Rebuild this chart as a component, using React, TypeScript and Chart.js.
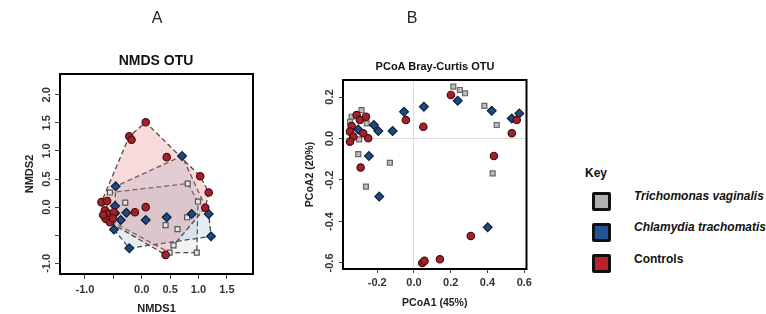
import React, { useEffect, useRef } from "react";
import { Chart, registerables } from "chart.js";
Chart.register(...registerables);

const FONT = "'Liberation Sans', Arial, Helvetica, sans-serif";

// Groups
const groupNames = ["Trichomonas vaginalis", "Chlamydia trachomatis", "Controls"];

// Panel A: NMDS OTU
const nmdsTvX = [0.81, -0.56, -0.29, 0.99, 0.80, 0.42, 0.63, 0.56, 0.49, 0.97, -0.66];
const nmdsTvY = [0.42, 0.26, 0.08, 0.10, -0.18, -0.32, -0.39, -0.68, -0.81, -0.81, -0.18];
const nmdsCtX = [0.71, -0.46, -0.47, -0.47, -0.37, -0.27, 1.18, 0.88, 0.44, 0.07, 1.22, -0.22, -0.49];
const nmdsCtY = [0.91, 0.37, 0.02, -0.11, -0.23, -0.10, -0.12, -0.12, -0.18, -0.23, -0.52, -0.73, -0.40];
const nmdsCoX = [0.07, -0.22, -0.18, 0.44, 1.03, 1.18, 1.12, 0.07, -0.12, -0.71, -0.61, -0.65, -0.59, -0.49, -0.63, -0.56, -0.51, -0.68, 0.42];
const nmdsCoY = [1.51, 1.26, 1.20, 0.89, 0.55, 0.26, -0.01, 0.00, -0.09, 0.09, 0.11, -0.06, -0.12, -0.09, -0.21, -0.27, -0.20, -0.14, -0.85];
const nmdsXTicks = [-1.0, -0.5, 0.0, 0.5, 1.0, 1.5];
const nmdsYTicks = [-1.0, -0.5, 0.0, 0.5, 1.0, 1.5, 2.0];
const nmdsHiddenLabels = [-0.5];

// Panel B: PCoA Bray-Curtis OTU
const pcoaTvX = [-0.257, -0.285, -0.339, -0.348, -0.298, -0.303, -0.131, -0.261, 0.214, 0.250, 0.278, 0.383, 0.450, 0.428];
const pcoaTvY = [0.073, 0.137, 0.105, 0.081, -0.004, -0.075, -0.117, -0.232, 0.250, 0.234, 0.218, 0.157, 0.065, -0.168];
const pcoaCtX = [0.054, -0.054, -0.116, -0.194, -0.218, -0.303, -0.245, -0.189, 0.238, 0.423, 0.532, 0.573, 0.401];
const pcoaCtY = [0.153, 0.129, 0.036, 0.036, 0.065, 0.044, -0.084, -0.280, 0.182, 0.134, 0.097, 0.121, -0.428];
const pcoaCoX = [-0.044, 0.051, -0.312, -0.294, -0.261, -0.339, -0.348, -0.330, -0.348, -0.276, -0.249, -0.290, 0.201, 0.559, 0.532, 0.435, 0.045, 0.057, 0.141, 0.309];
const pcoaCoY = [0.089, 0.057, 0.113, 0.089, 0.105, 0.060, 0.033, 0.009, -0.015, 0.025, 0.001, -0.140, 0.210, 0.089, 0.025, -0.084, -0.600, -0.590, -0.582, -0.470];
const pcoaXTicks = [-0.2, 0.0, 0.2, 0.4, 0.6];
const pcoaYTicks = [-0.6, -0.4, -0.2, 0.0, 0.2];

function convexHull(xs: number[], ys: number[]) {
  const pts = xs.map((x, i) => ({ x, y: ys[i] })).sort((a, b) => a.x - b.x || a.y - b.y);
  const cross = (o: any, a: any, b: any) => (a.x - o.x) * (b.y - o.y) - (a.y - o.y) * (b.x - o.x);
  const lower: any[] = [];
  for (const p of pts) {
    while (lower.length >= 2 && cross(lower[lower.length - 2], lower[lower.length - 1], p) <= 0) lower.pop();
    lower.push(p);
  }
  const upper: any[] = [];
  for (let i = pts.length - 1; i >= 0; i--) {
    const p = pts[i];
    while (upper.length >= 2 && cross(upper[upper.length - 2], upper[upper.length - 1], p) <= 0) upper.pop();
    upper.push(p);
  }
  upper.pop();
  lower.pop();
  const h = lower.concat(upper);
  h.push(h[0]);
  return h;
}

const framePlugin = {
  id: "frame",
  afterDatasetsDraw(chart: any) {
    const { ctx, chartArea: a } = chart;
    ctx.save();
    ctx.strokeStyle = "#000";
    ctx.lineWidth = 2;
    ctx.strokeRect(a.left, a.top, a.right - a.left, a.bottom - a.top);
    ctx.restore();
  },
};

type PanelSpec = {
  width: number;
  height: number;
  groups: { xs: number[]; ys: number[]; name: string; style: string; r: number; fill: string; stroke: string; hullFill: string }[];
  hulls: boolean;
  xMin: number; xMax: number; yMin: number; yMax: number;
  xTicks: number[]; yTicks: number[]; hidden: number[];
  xTitle: string; yTitle: string;
  titleSize: number;
  padRight: number; padTop: number;
  yAxisW: number; xAxisH: number;
  xTitlePadBottom: number; yTitlePadTop: number;
  xTickPad: number; yTickPad: number; tickLen: number;
  zeroGrid: boolean;
};

function buildConfig(p: PanelSpec): any {
  const datasets: any[] = [];
  p.groups.forEach((g) => {
    datasets.push({
      type: "scatter",
      label: g.name,
      data: g.xs.map((x, i) => ({ x, y: g.ys[i] })),
      pointStyle: g.style,
      pointRadius: g.r,
      backgroundColor: g.fill,
      borderColor: g.stroke,
      borderWidth: 1.2,
      order: 0,
    });
  });
  if (p.hulls) {
    p.groups.forEach((g) => {
      datasets.push({
        type: "line",
        label: g.name + " hull",
        data: convexHull(g.xs, g.ys),
        borderColor: "#4a4a4a",
        borderWidth: 1.3,
        borderDash: [5, 3],
        backgroundColor: g.hullFill,
        fill: "shape",
        pointRadius: 0,
        tension: 0,
        order: 5,
      });
    });
  }
  const tickFont = { family: FONT, size: 11, weight: "bold" as const };
  const titleFont = { family: FONT, size: p.titleSize, weight: "bold" as const };
  const gridColor = (c: any) => (p.zeroGrid && c.tick && Math.abs(c.tick.value) < 1e-9 ? "#dcdcdc" : "rgba(0,0,0,0)");
  return {
    type: "scatter",
    data: { datasets },
    plugins: [framePlugin],
    options: {
      animation: false,
      responsive: false,
      events: [],
      layout: { padding: { left: 0, top: p.padTop, right: p.padRight, bottom: 0 } },
      plugins: { legend: { display: false }, tooltip: { enabled: false }, title: { display: false } },
      scales: {
        x: {
          type: "linear",
          position: "bottom",
          min: p.xMin,
          max: p.xMax,
          afterBuildTicks: (s: any) => { s.ticks = p.xTicks.map((v) => ({ value: v })); },
          afterFit: (s: any) => { s.height = p.xAxisH; },
          border: { display: false },
          grid: { drawOnChartArea: p.zeroGrid, color: gridColor, tickColor: "#444", tickLength: p.tickLen, lineWidth: 1 },
          ticks: {
            font: tickFont, color: "#333", padding: p.xTickPad, maxRotation: 0, autoSkip: false,
            callback: (v: number) => (p.hidden.includes(v) ? "" : Number(v).toFixed(1)),
          },
          title: { display: true, text: p.xTitle, font: titleFont, color: "#222", padding: { top: 0, bottom: p.xTitlePadBottom } },
        },
        y: {
          type: "linear",
          position: "left",
          min: p.yMin,
          max: p.yMax,
          afterBuildTicks: (s: any) => { s.ticks = p.yTicks.map((v) => ({ value: v })); },
          afterFit: (s: any) => { s.width = p.yAxisW; },
          border: { display: false },
          grid: { drawOnChartArea: p.zeroGrid, color: gridColor, tickColor: "#444", tickLength: p.tickLen, lineWidth: 1 },
          ticks: {
            font: tickFont, color: "#333", padding: p.yTickPad, minRotation: 90, maxRotation: 90, crossAlign: "center", autoSkip: false,
            callback: (v: number) => (p.hidden.includes(v) ? "" : Number(v).toFixed(1)),
          },
          title: { display: true, text: p.yTitle, font: titleFont, color: "#222", padding: { top: p.yTitlePadTop, bottom: 0 } },
        },
      },
    },
  };
}

function Panel({ spec, left }: { spec: PanelSpec; left: number }) {
  const ref = useRef<HTMLCanvasElement>(null);
  useEffect(() => {
    if (!ref.current) return;
    const chart = new Chart(ref.current, buildConfig(spec));
    return () => chart.destroy();
  }, []);
  return (
    <canvas
      ref={ref}
      width={spec.width}
      height={spec.height}
      style={{ position: "absolute", left, top: 0, width: spec.width, height: spec.height }}
    />
  );
}

const RED = { fill: "#a3212a", stroke: "#4a0d10" };
const BLUE = { fill: "#1f4a80", stroke: "#0b2038" };

const nmdsSpec: PanelSpec = {
  width: 268, height: 314,
  groups: [
    { xs: nmdsCoX, ys: nmdsCoY, name: groupNames[2], style: "circle", r: 3.7, fill: RED.fill, stroke: RED.stroke, hullFill: "rgba(225,120,120,0.27)" },
    { xs: nmdsCtX, ys: nmdsCtY, name: groupNames[1], style: "rectRot", r: 4.4, fill: BLUE.fill, stroke: BLUE.stroke, hullFill: "rgba(120,160,200,0.2)" },
    { xs: nmdsTvX, ys: nmdsTvY, name: groupNames[0], style: "rect", r: 3.5, fill: "#e6e6e6", stroke: "#555", hullFill: "rgba(128,128,128,0.1)" },
  ],
  hulls: true,
  xMin: -1.44, xMax: 1.96, yMin: -1.19, yMax: 2.37,
  xTicks: nmdsXTicks, yTicks: nmdsYTicks, hidden: nmdsHiddenLabels,
  xTitle: "NMDS1", yTitle: "NMDS2", titleSize: 11,
  padRight: 15, padTop: 74, yAxisW: 60, xAxisH: 40,
  xTitlePadBottom: -1.2, yTitlePadTop: 23.4,
  xTickPad: 4, yTickPad: -1, tickLen: 5,
  zeroGrid: false,
};

const pcoaSpec: PanelSpec = {
  width: 256, height: 314,
  groups: [
    { xs: pcoaCoX, ys: pcoaCoY, name: groupNames[2], style: "circle", r: 3.7, fill: RED.fill, stroke: RED.stroke, hullFill: "" },
    { xs: pcoaCtX, ys: pcoaCtY, name: groupNames[1], style: "rectRot", r: 4.4, fill: BLUE.fill, stroke: BLUE.stroke, hullFill: "" },
    { xs: pcoaTvX, ys: pcoaTvY, name: groupNames[0], style: "rect", r: 3.5, fill: "#bdbdbd", stroke: "#666", hullFill: "" },
  ],
  hulls: false,
  xMin: -0.386, xMax: 0.612, yMin: -0.629, yMax: 0.282,
  xTicks: pcoaXTicks, yTicks: pcoaYTicks, hidden: [],
  xTitle: "PCoA1 (45%)", yTitle: "PCoA2 (20%)", titleSize: 10.5,
  padRight: 9.5, padTop: 80, yAxisW: 63, xAxisH: 45,
  xTitlePadBottom: 4.7, yTitlePadTop: 23.7,
  xTickPad: 3.5, yTickPad: 0, tickLen: 4,
  zeroGrid: true,
};

const centered = (x: number, y: number, extra: any) => ({
  position: "absolute" as const, left: x, top: y, transform: "translate(-50%, -50%)", whiteSpace: "nowrap" as const, lineHeight: 1, ...extra,
});

const legendItems = [
  { label: groupNames[0], color: "#b0b0b0", italic: true },
  { label: groupNames[1], color: "#1f5597", italic: true },
  { label: groupNames[2], color: "#b82228", italic: false },
];

export default function App() {
  return (
    <div style={{ position: "absolute", left: 0, top: 0, width: 766, height: 314, overflow: "hidden", background: "#fff", fontFamily: FONT }}>
      <Panel spec={nmdsSpec} left={0} />
      <Panel spec={pcoaSpec} left={280} />
      <div style={centered(157, 18, { fontSize: 16, color: "#222" })}>A</div>
      <div style={centered(412, 18, { fontSize: 16, color: "#222" })}>B</div>
      <div style={centered(156, 60, { fontSize: 14, fontWeight: "bold", color: "#111" })}>NMDS OTU</div>
      <div style={centered(435, 66, { fontSize: 11, fontWeight: "bold", color: "#111" })}>PCoA Bray-Curtis OTU</div>
      <div style={{ position: "absolute", left: 585, top: 166.5, fontSize: 12, fontWeight: "bold", color: "#111", lineHeight: 1 }}>Key</div>
      {legendItems.map((it, i) => (
        <React.Fragment key={it.label}>
          <div
            style={{
              position: "absolute", left: 592, top: 192 + i * 31, width: 13, height: 13,
              background: it.color, border: "3px solid #111", borderRadius: 2,
            }}
          />
          <div
            style={{
              position: "absolute", left: 634, top: 189.5 + i * 31.5, fontSize: 12, fontWeight: "bold",
              fontStyle: it.italic ? "italic" : "normal", color: "#111", whiteSpace: "nowrap", lineHeight: 1,
            }}
          >
            {it.label}
          </div>
        </React.Fragment>
      ))}
    </div>
  );
}
